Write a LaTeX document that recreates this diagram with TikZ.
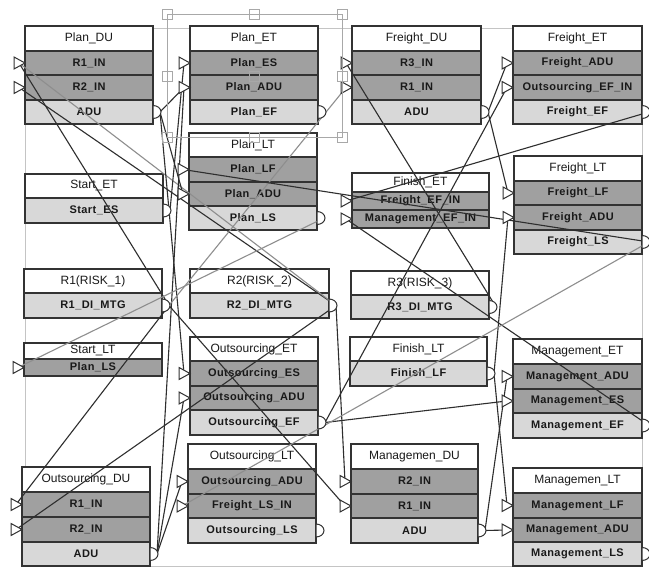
\documentclass[tikz,border=0pt]{standalone}
\usepackage{fontspec}
\setmainfont{Liberation Sans}
\newfontfamily\rowfont{Liberation Sans}[LetterSpace=4]
\pgfdeclarelayer{fg}
\pgfsetlayers{main,fg}
\definecolor{edgec}{HTML}{333333}
\definecolor{inrowc}{HTML}{A0A0A0}
\definecolor{outrowc}{HTML}{D8D8D8}
\definecolor{lnd}{HTML}{2E2E2E}
\definecolor{lng}{HTML}{8E8E8E}
\definecolor{selc}{HTML}{A8A8A8}
\definecolor{framec}{HTML}{C4C4C4}
\newcommand\rowc[7]{\node[#1, minimum width={(#4-#3)*1pt}, minimum height={(#6-#5)*1pt}] (#2) at ({(#3+#4)/2},{(#5+#6)/2}) {#7};}
\newcommand\inp[3]{\coordinate (#1) at ({#2-6},#3);
  \begin{pgfonlayer}{fg}\filldraw[portst] (#2,#3) -- ({#2-11},{#3-6}) -- ({#2-11},{#3+6}) -- cycle;\end{pgfonlayer}}
\newcommand\outp[3]{\coordinate (#1) at ({#2+7},#3);
  \begin{pgfonlayer}{fg}\filldraw[portst] (#2,{#3-6.5}) arc[start angle=-90,end angle=90,x radius=8,y radius=6.5] -- cycle;\end{pgfonlayer}}
\begin{document}
\begin{tikzpicture}[x=1pt,y=-1pt,
  ttl/.style={draw=edgec, line width=1.1pt, fill=white, inner sep=0pt, text=black!90, font=\fontsize{12}{14}\selectfont},
  inr/.style={draw=edgec, line width=1.1pt, fill=inrowc, inner sep=0pt, text=black!90, font=\rowfont\bfseries\fontsize{11}{13}\selectfont},
  outr/.style={draw=edgec, line width=1.1pt, fill=outrowc, inner sep=0pt, text=black!90, font=\rowfont\bfseries\fontsize{11}{13}\selectfont},
  portst/.style={draw=edgec, fill=white, line width=1pt},
  ln/.style={draw=lnd, line width=1.1pt},
  lg/.style={draw=lng, line width=1.1pt},
  selbox/.style={draw=selc, line width=0.9pt}]
\useasboundingbox (0,0) rectangle (649,567);
\fill[white] (0,0) rectangle (649,567);
\draw[framec, line width=0.9pt] (25,28) rectangle (642,566);
% Plan_DU
\rowc{ttl}{pdu}{25}{153}{26}{51}{Plan\_DU}
\rowc{inr}{pdu1}{25}{153}{51}{75}{R1\_IN}
\rowc{inr}{pdu2}{25}{153}{75}{100}{R2\_IN}
\rowc{outr}{pdu3}{25}{153}{100}{124}{ADU}
% Plan_ET
\rowc{ttl}{pet}{190}{318}{26}{51}{Plan\_ET}
\rowc{inr}{pet1}{190}{318}{51}{75}{Plan\_ES}
\rowc{inr}{pet2}{190}{318}{75}{100}{Plan\_ADU}
\rowc{outr}{pet3}{190}{318}{100}{124}{Plan\_EF}
% Freight_DU
\rowc{ttl}{fdu}{352}{481}{26}{51}{Freight\_DU}
\rowc{inr}{fdu1}{352}{481}{51}{75}{R3\_IN}
\rowc{inr}{fdu2}{352}{481}{75}{100}{R1\_IN}
\rowc{outr}{fdu3}{352}{481}{100}{124}{ADU}
% Freight_ET
\rowc{ttl}{fet}{513}{642}{26}{51}{Freight\_ET}
\rowc{inr}{fet1}{513}{642}{51}{75}{Freight\_ADU}
\rowc{inr}{fet2}{513}{642}{75}{100}{Outsourcing\_EF\_IN}
\rowc{outr}{fet3}{513}{642}{100}{124}{Freight\_EF}
% Plan_LT
\rowc{ttl}{plt}{189}{317}{133}{157}{Plan\_LT}
\rowc{inr}{plt1}{189}{317}{157}{182}{Plan\_LF}
\rowc{inr}{plt2}{189}{317}{182}{206}{Plan\_ADU}
\rowc{outr}{plt3}{189}{317}{206}{230}{Plan\_LS}
% Start_ET
\rowc{ttl}{set}{25}{163}{174}{198}{Start\_ET}
\rowc{outr}{set1}{25}{163}{198}{223}{Start\_ES}
% Finish_ET
\rowc{ttl}{fin}{352}{489}{173}{192}{Finish\_ET}
\rowc{inr}{fin1}{352}{489}{192}{210}{Freight\_EF\_IN}
\rowc{inr}{fin2}{352}{489}{210}{228}{Management\_EF\_IN}
% Freight_LT
\rowc{ttl}{flt}{514}{642}{156}{181}{Freight\_LT}
\rowc{inr}{flt1}{514}{642}{181}{205}{Freight\_LF}
\rowc{inr}{flt2}{514}{642}{205}{230}{Freight\_ADU}
\rowc{outr}{flt3}{514}{642}{230}{254}{Freight\_LS}
% R1, R2, R3
\rowc{ttl}{ra}{24}{162}{269}{293}{R1(RISK\_1)}
\rowc{outr}{ra1}{24}{162}{293}{318}{R1\_DI\_MTG}
\rowc{ttl}{rb}{190}{329}{269}{293}{R2(RISK\_2)}
\rowc{outr}{rb1}{190}{329}{293}{318}{R2\_DI\_MTG}
\rowc{ttl}{rc}{351}{489}{271}{295}{R3(RISK\_3)}
\rowc{outr}{rc1}{351}{489}{295}{319}{R3\_DI\_MTG}
% Start_LT
\rowc{ttl}{slt}{24}{162}{343}{359}{Start\_LT}
\rowc{inr}{slt1}{24}{162}{359}{376}{Plan\_LS}
% Outsourcing_ET
\rowc{ttl}{oet}{190}{318}{337}{361}{Outsourcing\_ET}
\rowc{inr}{oet1}{190}{318}{361}{386}{Outsourcing\_ES}
\rowc{inr}{oet2}{190}{318}{386}{410}{Outsourcing\_ADU}
\rowc{outr}{oet3}{190}{318}{410}{435}{Outsourcing\_EF}
% Finish_LT
\rowc{ttl}{finl}{350}{487}{337}{361}{Finish\_LT}
\rowc{outr}{finl1}{350}{487}{361}{386}{Finish\_LF}
% Management_ET
\rowc{ttl}{met}{513}{642}{339}{364}{Management\_ET}
\rowc{inr}{met1}{513}{642}{364}{389}{Management\_ADU}
\rowc{inr}{met2}{513}{642}{389}{413}{Management\_ES}
\rowc{outr}{met3}{513}{642}{413}{438}{Management\_EF}
% Outsourcing_DU
\rowc{ttl}{odu}{22}{150}{467}{492}{Outsourcing\_DU}
\rowc{inr}{odu1}{22}{150}{492}{517}{R1\_IN}
\rowc{inr}{odu2}{22}{150}{517}{542}{R2\_IN}
\rowc{outr}{odu3}{22}{150}{542}{566}{ADU}
% Outsourcing_LT
\rowc{ttl}{olt}{188}{316}{444}{469}{Outsourcing\_LT}
\rowc{inr}{olt1}{188}{316}{469}{494}{Outsourcing\_ADU}
\rowc{inr}{olt2}{188}{316}{494}{518}{Freight\_LS\_IN}
\rowc{outr}{olt3}{188}{316}{518}{543}{Outsourcing\_LS}
% Managemen_DU
\rowc{ttl}{mdu}{351}{478}{444}{469}{Managemen\_DU}
\rowc{inr}{mdu1}{351}{478}{469}{494}{R2\_IN}
\rowc{inr}{mdu2}{351}{478}{494}{518}{R1\_IN}
\rowc{outr}{mdu3}{351}{478}{518}{543}{ADU}
% Managemen_LT
\rowc{ttl}{mlt}{513}{642}{468}{493}{Managemen\_LT}
\rowc{inr}{mlt1}{513}{642}{493}{518}{Management\_LF}
\rowc{inr}{mlt2}{513}{642}{518}{542}{Management\_ADU}
\rowc{outr}{mlt3}{513}{642}{542}{566}{Management\_LS}
% ports
\inp{pdu-r1}{25}{63}\inp{pdu-r2}{25}{87.5}\outp{pdu-o}{153}{112}
\inp{pet-es}{190}{63}\inp{pet-adu}{190}{87.5}\outp{pet-o}{318}{112}
\inp{fdu-r3}{352}{63}\inp{fdu-r1}{352}{87.5}\outp{fdu-o}{481}{112}
\inp{fet-adu}{513}{63}\inp{fet-oef}{513}{87.5}\outp{fet-o}{642}{112}
\inp{plt-lf}{189}{169.5}\inp{plt-adu}{189}{194}\outp{plt-o}{317}{218}
\outp{set-o}{163}{210.5}
\inp{fin-fef}{352}{201}\inp{fin-mef}{352}{219}
\inp{flt-lf}{514}{193}\inp{flt-adu}{514}{217.5}\outp{flt-o}{642}{242}
\outp{r1-o}{162}{305.5}\outp{r2-o}{329}{305.5}\outp{r3-o}{489}{307}
\inp{slt-in}{24}{367.5}
\inp{oet-es}{190}{373.5}\inp{oet-adu}{190}{398}\outp{oet-o}{318}{422.5}
\outp{finlt-o}{487}{373.5}
\inp{met-adu}{513}{376.5}\inp{met-es}{513}{401}\outp{met-o}{642}{425.5}
\inp{odu-r1}{22}{504.5}\inp{odu-r2}{22}{529.5}\outp{odu-o}{150}{554}
\inp{olt-adu}{188}{481.5}\inp{olt-fls}{188}{506}\outp{olt-o}{316}{530.5}
\inp{mdu-r2}{351}{481.5}\inp{mdu-r1}{351}{506}\outp{mdu-o}{478}{530.5}
\inp{mlt-lf}{513}{505.5}\inp{mlt-adu}{513}{530}\outp{mlt-o}{642}{554}
% connectors
\draw[ln] (r1-o) -- (pdu-r1);
\draw[ln] (r2-o) -- (pdu-r2);
\draw[lg] (r2-o) -- (pdu-r1);
\draw[ln] (pdu-o) -- (pet-adu);
\draw[ln] (pdu-o) -- (plt-adu);
\draw[ln] (set-o) -- (pet-es);
\draw[ln] (odu-o) -- (pet-adu);
\draw[ln] (pdu-o) -- (oet-es);
\draw[ln] (r3-o) -- (fdu-r3);
\draw[lg] (r1-o) -- (fdu-r1);
\draw[ln] (flt-o) -- (plt-lf);
\draw[lg] (plt-o) -- (slt-in);
\draw[ln] (r1-o) -- (odu-r1);
\draw[ln] (r2-o) -- (odu-r2);
\draw[ln] (odu-o) -- (oet-adu);
\draw[ln] (odu-o) -- (olt-adu);
\draw[ln] (mdu-o) -- (mlt-adu);
\draw[ln] (mdu-o) -- (met-adu);
\draw[ln] (finlt-o) -- (mlt-lf);
\draw[ln] (finlt-o) -- (flt-adu);
\draw[ln] (fdu-o) -- (flt-lf);
\draw[ln] (fdu-o) -- (fet-adu);
\draw[ln] (oet-o) -- (fet-oef);
\draw[ln] (oet-o) -- (met-es);
\draw[ln] (met-o) -- (fin-mef);
\draw[ln] (fet-o) -- (fin-fef);
\draw[ln] (r2-o) -- (mdu-r2);
\draw[ln] (r1-o) -- (mdu-r1);
\draw[lg] (flt-o) -- (olt-fls);
% selection handles
\begin{pgfonlayer}{fg}
\draw[selbox] (167,14) rectangle (342,137);
\foreach \sx in {167,254,342}{\foreach \sy in {14,76,137}{\draw[selbox] ({\sx-5},{\sy-5}) rectangle ({\sx+5},{\sy+5});}}
\end{pgfonlayer}
\end{tikzpicture}
\end{document}
